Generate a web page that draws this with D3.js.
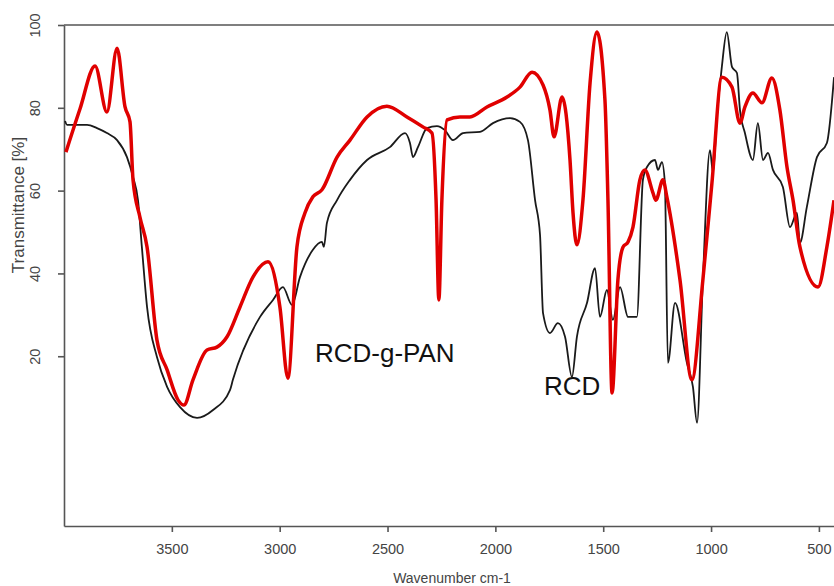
<!DOCTYPE html>
<html>
<head>
<meta charset="utf-8">
<script src="https://cdn.jsdelivr.net/npm/d3@7"></script>
<style>
  body { margin: 0; background: #fff; }
  text { font-family: "Liberation Sans", Arial, sans-serif; }
</style>
</head>
<body>
<div class="box"></div>
<script>
// spectre RCD-g-PAN (rouge) : nombre d'onde, transmittance
const pan_w = [3991, 3926, 3856, 3801, 3754, 3717, 3694, 3680, 3648, 3615, 3569, 3522, 3471, 3444, 3402,
  3337, 3291, 3244, 3184, 3124, 3054, 2999, 2962, 2920, 2883, 2846, 2804, 2734, 2674, 2595, 2503,
  2410, 2336, 2294, 2275, 2262, 2248, 2224, 2164, 2118, 2039, 1946, 1886, 1830, 1779, 1747, 1728,
  1691, 1654, 1640, 1622, 1594, 1561, 1529, 1492, 1478, 1459, 1432, 1408, 1385, 1362, 1330, 1307,
  1269, 1256, 1223, 1205, 1144, 1089, 1038, 996, 950, 903, 866, 843, 806, 764, 718, 681, 648, 620,
  588, 504, 463, 430];
const pan_t = [69.3, 79.7, 90.1, 79.0, 94.4, 80.2, 76.6, 62.6, 53.6, 46.4, 23.9, 16.7, 9.4, 8.2, 14.3,
  21.5, 22.2, 24.7, 31.9, 39.1, 42.8, 31.9, 14.7, 46.4, 54.6, 58.5, 60.2, 68.1, 72.2, 77.8, 80.4,
  77.8, 75.4, 73.9, 57.7, 33.6, 57.7, 77.1, 77.8, 77.8, 80.2, 82.6, 85.0, 88.6, 85.5, 79.5, 73.0,
  82.6, 67.4, 54.6, 46.9, 57.7, 86.0, 98.3, 81.9, 57.7, 11.1, 38.4, 46.4, 47.6, 51.2, 62.6, 65.0,
  59.4, 57.7, 62.6, 58.5, 38.4, 14.3, 38.4, 61.8, 87.4, 85.0, 76.3, 80.2, 83.6, 81.2, 87.2, 79.5, 65.7, 57.7,
  46.4, 36.7, 46.4, 57.7];

// spectre RCD (noir)
const rcd_w = [3995, 3986, 3893, 3847, 3801, 3754, 3708, 3680, 3657, 3639, 3615, 3569, 3522, 3462, 3383,
  3309, 3230, 3217, 3091, 3031, 2985, 2943, 2906, 2846, 2804, 2795, 2781, 2734, 2674, 2595, 2489,
  2419, 2396, 2382, 2359, 2317, 2271, 2234, 2197, 2150, 2071, 2011, 1932, 1886, 1849, 1816, 1793,
  1779, 1747, 1710, 1677, 1645, 1622, 1575, 1538, 1515, 1483, 1455, 1422, 1385, 1344, 1316, 1297,
  1260, 1246, 1228, 1214, 1200, 1167, 1112, 1084, 1065, 1038, 1005, 991, 973, 950, 927, 903, 880,
  866, 843, 806, 783, 759, 736, 713, 667, 634, 602, 588, 556, 509, 463, 430];
const rcd_t = [76.8, 75.9, 75.9, 75.1, 73.9, 72.2, 68.1, 63.3, 57.7, 46.4, 31.9, 19.8, 12.6, 7.7, 5.1,
  7.0, 11.9, 14.3, 29.5, 33.6, 36.7, 32.4, 39.1, 45.7, 47.6, 46.4, 52.2, 57.7, 62.6, 67.4, 70.5,
  73.9, 71.5, 68.1, 70.5, 75.1, 75.6, 74.6, 72.2, 73.9, 74.2, 76.3, 77.5, 76.6, 72.2, 57.7, 49.3,
  30.4, 25.6, 28.0, 24.7, 15.0, 24.7, 32.9, 41.3, 29.5, 36.0, 28.8, 36.7, 29.5, 29.5, 62.6, 65.7,
  67.4, 65.0, 66.9, 61.8, 18.4, 32.9, 18.4, 12.6, 3.9, 38.4, 69.8, 64.3, 77.8, 89.9, 98.3, 89.9, 88.4,
  79.5, 73.9, 67.4, 76.3, 67.4, 69.1, 65.0, 60.9, 51.2, 54.6, 47.4, 56.0, 68.1, 71.5, 87.4];

const xTicks = [3500, 3000, 2500, 2000, 1500, 1000, 500];
const yTicks = [20, 40, 60, 80, 100];

const dims = {width: 834, height: 586, left: 64, right: 834, top: 25, bottom: 526};

const svg = d3.select('.box')
              .append('svg')
              .attr('width', dims.width)
              .attr('height', dims.height);

const x = d3.scaleLinear().domain([4000, 430]).range([dims.left, dims.right]);
const y = d3.scaleLinear().domain([-21, 100]).range([dims.bottom, dims.top]);

// axes
const axeX = svg.append('g')
  .attr('transform', `translate(0, ${dims.bottom})`)
  .call(d3.axisBottom(x).tickValues(xTicks).tickFormat(d3.format('d'))
    .tickSize(6).tickSizeOuter(0).tickPadding(12));

const axeY = svg.append('g')
  .attr('transform', `translate(${dims.left}, 0)`)
  .call(d3.axisLeft(y).tickValues(yTicks).tickFormat(d3.format('d'))
    .tickSize(6).tickSizeOuter(0).tickPadding(10));

[axeX, axeY].forEach(a => {
  a.select('.domain').attr('stroke', '#555').attr('stroke-width', 1.6);
  a.selectAll('.tick line').attr('stroke', '#555').attr('stroke-width', 1.6);
  a.selectAll('.tick text').attr('fill', '#444').style('font-size', '14.5px')
    .style('font-family', '"Liberation Sans", Arial, sans-serif');
});

axeY.selectAll('.tick text')
  .attr('transform', 'rotate(-90)')
  .attr('x', 0).attr('y', -24)
  .attr('dy', 0)
  .style('text-anchor', 'middle');

// ligne du haut
svg.append('line')
  .attr('x1', dims.left).attr('x2', dims.right)
  .attr('y1', y(100)).attr('y2', y(100))
  .attr('stroke', '#555').attr('stroke-width', 1.6);

// courbes
const line = d3.line()
  .x(d => x(d[0]))
  .y(d => y(d[1]))
  .curve(d3.curveMonotoneX);

svg.append('path')
  .datum(rcd_w.map((w, i) => [w, rcd_t[i]]))
  .attr('d', line)
  .attr('fill', 'none')
  .attr('stroke', '#1a1a1a')
  .attr('stroke-width', 1.8);

svg.append('path')
  .datum(pan_w.map((w, i) => [w, pan_t[i]]))
  .attr('d', line)
  .attr('fill', 'none')
  .attr('stroke', '#e00000')
  .attr('stroke-width', 3.5);

// titres
svg.append('text')
  .attr('x', 452).attr('y', 583)
  .attr('text-anchor', 'middle')
  .attr('fill', '#444')
  .style('font-size', '14px')
  .text('Wavenumber cm-1');

svg.append('text')
  .attr('transform', 'translate(24, 205) rotate(-90)')
  .attr('text-anchor', 'middle')
  .attr('fill', '#444')
  .style('font-size', '17px')
  .text('Transmittance [%]');

// étiquettes
svg.append('text')
  .attr('x', 315).attr('y', 362)
  .attr('fill', '#111')
  .style('font-size', '26px')
  .text('RCD-g-PAN');

svg.append('text')
  .attr('x', 544).attr('y', 395)
  .attr('fill', '#111')
  .style('font-size', '26px')
  .text('RCD');
</script>
</body>
</html>
